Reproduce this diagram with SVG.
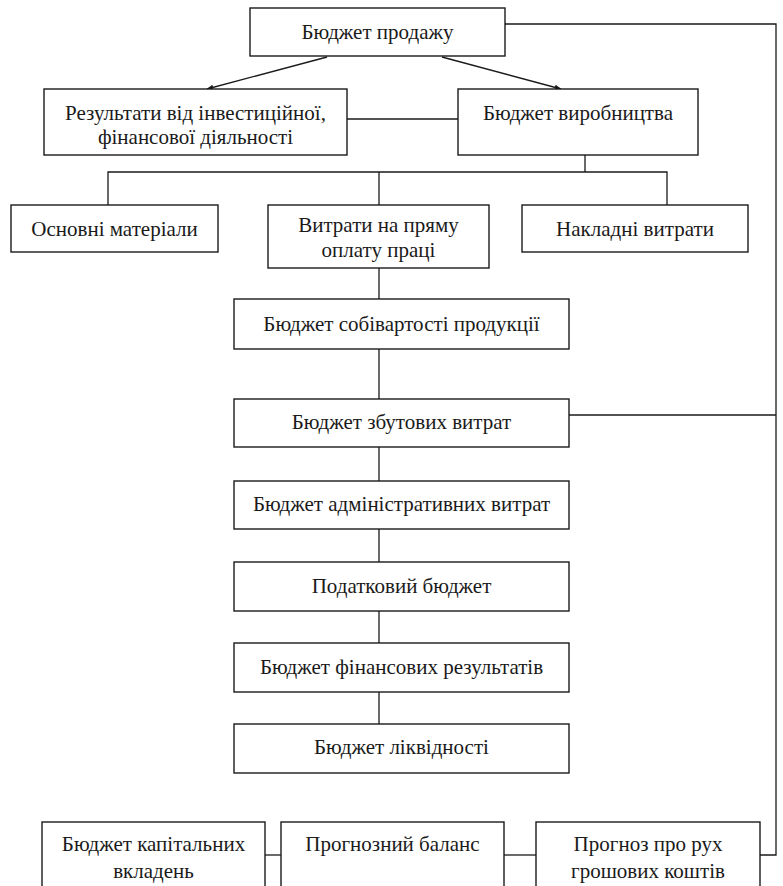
<svg xmlns="http://www.w3.org/2000/svg" width="783" height="886" viewBox="0 0 783 886">
<defs>
<style>
.box{fill:#fff;stroke:#1a1a1a;stroke-width:1.4}
.ln{fill:none;stroke:#1a1a1a;stroke-width:1.3}
text{font-family:"Liberation Serif","Times New Roman",serif;font-size:21px;fill:#1a1a1a;text-anchor:middle}
</style>
<marker id="ah" viewBox="0 0 10 10" refX="9" refY="5" markerWidth="7" markerHeight="7" orient="auto" markerUnits="userSpaceOnUse">
<path d="M0,1 L10,5 L0,9 Z" fill="#1a1a1a"/>
</marker>
</defs>
<rect width="783" height="886" fill="#fff"/>
<g id="connectors">
<line class="ln" x1="327" y1="57" x2="207" y2="89" marker-end="url(#ah)"/>
<line class="ln" x1="442" y1="57" x2="561" y2="89" marker-end="url(#ah)"/>
<line class="ln" x1="347" y1="119" x2="458" y2="119"/>
<line class="ln" x1="585" y1="155" x2="585" y2="172"/>
<polyline class="ln" points="108,205 108,172 667,172 667,205"/>
<line class="ln" x1="379" y1="172" x2="379" y2="205"/>
<line class="ln" x1="379" y1="268" x2="379" y2="299"/>
<line class="ln" x1="379" y1="349" x2="379" y2="399"/>
<line class="ln" x1="379" y1="447" x2="379" y2="481"/>
<line class="ln" x1="379" y1="529" x2="379" y2="562"/>
<line class="ln" x1="379" y1="611" x2="379" y2="643"/>
<line class="ln" x1="379" y1="692" x2="379" y2="724"/>
<polyline class="ln" points="505,24 776,24 776,855 760,855"/>
<line class="ln" x1="569" y1="415" x2="776" y2="415"/>
<line class="ln" x1="265" y1="855" x2="281" y2="855"/>
<line class="ln" x1="504" y1="855" x2="536" y2="855"/>
</g>
<g id="n-sales">
<rect class="box" x="250" y="8" width="255" height="48"/>
<text x="377.5" y="39">Бюджет продажу</text>
</g>
<g id="n-invest">
<rect class="box" x="44" y="89" width="303" height="66"/>
<text x="195.5" y="120">Результати від інвестиційної,</text>
<text x="195.5" y="144">фінансової діяльності</text>
</g>
<g id="n-production">
<rect class="box" x="458" y="89" width="240" height="66"/>
<text x="578" y="120">Бюджет виробництва</text>
</g>
<g id="n-materials">
<rect class="box" x="11" y="205" width="207" height="47"/>
<text x="114.5" y="235.5">Основні матеріали</text>
</g>
<g id="n-labour">
<rect class="box" x="268" y="205" width="221" height="63"/>
<text x="378.5" y="232">Витрати на пряму</text>
<text x="378.5" y="257">оплату праці</text>
</g>
<g id="n-overhead">
<rect class="box" x="522" y="205" width="226" height="47"/>
<text x="635" y="235.5">Накладні витрати</text>
</g>
<g id="n-cost">
<rect class="box" x="234" y="299" width="335" height="50"/>
<text x="401.5" y="331">Бюджет собівартості продукції</text>
</g>
<g id="n-selling">
<rect class="box" x="234" y="399" width="335" height="48"/>
<text x="401.5" y="429">Бюджет збутових витрат</text>
</g>
<g id="n-admin">
<rect class="box" x="234" y="481" width="335" height="48"/>
<text x="401.5" y="511">Бюджет адміністративних витрат</text>
</g>
<g id="n-tax">
<rect class="box" x="234" y="562" width="335" height="49"/>
<text x="401.5" y="593">Податковий бюджет</text>
</g>
<g id="n-finres">
<rect class="box" x="234" y="643" width="335" height="49"/>
<text x="401.5" y="674">Бюджет фінансових результатів</text>
</g>
<g id="n-liquidity">
<rect class="box" x="234" y="724" width="335" height="49"/>
<text x="401.5" y="754">Бюджет ліквідності</text>
</g>
<g id="n-capex">
<rect class="box" x="42" y="822" width="223" height="90"/>
<text x="153.5" y="851">Бюджет капітальних</text>
<text x="153.5" y="878">вкладень</text>
</g>
<g id="n-balance">
<rect class="box" x="281" y="822" width="223" height="90"/>
<text x="392.5" y="851">Прогнозний баланс</text>
</g>
<g id="n-cashflow">
<rect class="box" x="536" y="822" width="224" height="90"/>
<text x="648" y="851">Прогноз про рух</text>
<text x="648" y="878">грошових коштів</text>
</g>
</svg>
